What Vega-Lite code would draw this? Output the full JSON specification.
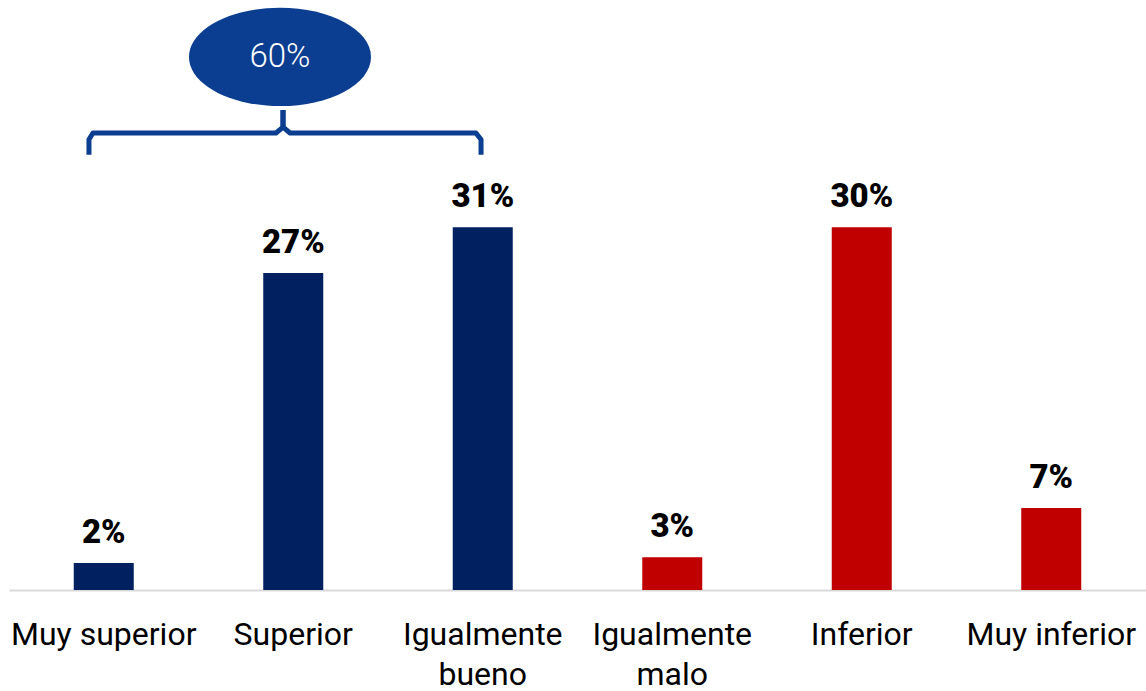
{
  "$schema": "https://vega.github.io/schema/vega-lite/v6.json",
  "width": 1137,
  "height": 585,
  "autosize": "none",
  "padding": {"left": 9, "top": 5, "right": 0, "bottom": 101},
  "background": "white",
  "config": {"view": {"stroke": null}, "font": "Roboto"},
  "datasets": {
    "bars": [
      {"cat": "Muy superior", "value": 2.3, "label": "2%", "group": "pos"},
      {"cat": "Superior", "value": 27.1, "label": "27%", "group": "pos"},
      {"cat": "Igualmente bueno", "value": 31.0, "label": "31%", "group": "pos"},
      {"cat": "Igualmente malo", "value": 2.8, "label": "3%", "group": "neg"},
      {"cat": "Inferior", "value": 31.0, "label": "30%", "group": "neg"},
      {"cat": "Muy inferior", "value": 7.0, "label": "7%", "group": "neg"}
    ],
    "bracket": [
      {"side": "L", "ord": 1, "px": 0.422, "value": 37.2},
      {"side": "L", "ord": 2, "px": 0.422, "value": 38.5},
      {"side": "L", "ord": 3, "px": 0.443, "value": 39.06},
      {"side": "L", "ord": 4, "px": 1.409, "value": 39.06},
      {"side": "L", "ord": 5, "px": 1.446, "value": 39.57},
      {"side": "L", "ord": 6, "px": 1.446, "value": 41.03},
      {"side": "R", "ord": 1, "px": 1.446, "value": 41.03},
      {"side": "R", "ord": 2, "px": 1.446, "value": 39.57},
      {"side": "R", "ord": 3, "px": 1.483, "value": 39.06},
      {"side": "R", "ord": 4, "px": 2.464, "value": 39.06},
      {"side": "R", "ord": 5, "px": 2.491, "value": 38.5},
      {"side": "R", "ord": 6, "px": 2.491, "value": 37.2}
    ],
    "bubble": [
      {"px": 1.43, "value": 45.56, "text": "60%"}
    ]
  },
  "layer": [
    {
      "data": {"name": "bars"},
      "encoding": {
        "x": {
          "field": "cat", "type": "nominal", "sort": null,
          "scale": {"paddingInner": 0, "paddingOuter": 0},
          "axis": {
            "title": null, "labelAngle": 0, "ticks": false,
            "domainColor": "#D9D9D9", "domainWidth": 2,
            "labelFontSize": 32, "labelColor": "#000000",
            "labelPadding": 29, "labelLineHeight": 40, "labelBaseline": "top",
            "labelLimit": 400,
            "labelExpr": "indexof(datum.label, 'Igualmente') == 0 ? split(datum.label, ' ') : datum.label"
          }
        },
        "y": {"field": "value", "type": "quantitative", "scale": {"domain": [0, 50]}, "axis": null}
      },
      "layer": [
        {
          "mark": {"type": "bar", "size": 60},
          "encoding": {
            "color": {"field": "group", "type": "nominal", "scale": {"domain": ["pos", "neg"], "range": ["#002060", "#C00000"]}, "legend": null}
          }
        },
        {
          "mark": {"type": "text", "fontSize": 33, "fontWeight": 900, "baseline": "alphabetic", "dy": -20, "color": "#000000"},
          "encoding": {"text": {"field": "label"}}
        }
      ]
    },
    {
      "data": {"name": "bracket"},
      "mark": {"type": "line", "strokeWidth": 5, "color": "#0B3D91", "strokeJoin": "round"},
      "encoding": {
        "x": {"field": "px", "type": "quantitative", "scale": {"domain": [0, 6], "nice": false, "zero": false}, "axis": null},
        "y": {"field": "value", "type": "quantitative", "scale": {"domain": [0, 50]}, "axis": null},
        "detail": {"field": "side"},
        "order": {"field": "ord"}
      }
    },
    {
      "data": {"name": "bubble"},
      "encoding": {
        "x": {"field": "px", "type": "quantitative", "scale": {"domain": [0, 6], "nice": false, "zero": false}, "axis": null},
        "y": {"field": "value", "type": "quantitative", "scale": {"domain": [0, 50]}, "axis": null}
      },
      "layer": [
        {
          "mark": {"type": "point", "shape": "M-1,0A1,0.54,0,1,1,1,0A1,0.54,0,1,1,-1,0Z", "size": 33124, "filled": true, "color": "#0B3D91", "opacity": 1, "strokeWidth": 0}
        },
        {
          "mark": {"type": "text", "fontSize": 33, "fontWeight": 300, "color": "#FFFFFF", "baseline": "middle"},
          "encoding": {"text": {"field": "text"}}
        }
      ]
    }
  ],
  "resolve": {"scale": {"x": "independent"}}
}
